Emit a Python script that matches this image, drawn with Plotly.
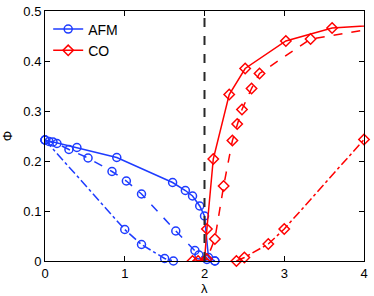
import plotly.graph_objects as go

# AFM (blue circles)
afm_solid_x = [0, 0.1, 0.4, 0.9, 1.6, 1.76, 1.85, 1.94, 2.0, 2.05, 2.13]
afm_solid_y = [0.242, 0.238, 0.227, 0.207, 0.157, 0.141, 0.130, 0.110, 0.090, 0.007, 0.0]
afm_dash_x = [0, 0.05, 0.15, 0.3, 0.54, 0.84, 1.02, 1.21, 1.64, 1.88, 1.93, 2.03, 2.13]
afm_dash_y = [0.242, 0.239, 0.235, 0.223, 0.206, 0.179, 0.160, 0.134, 0.060, 0.021, 0.012, 0.003, 0.0]
afm_dd_x = [0, 1.0, 1.21, 1.5, 1.61]
afm_dd_y = [0.242, 0.063, 0.033, 0.005, 0.0]

# CO (red diamonds)
co_solid_x = [1.85, 2.0, 2.03, 2.11, 2.31, 2.51, 3.02, 3.6, 4.4]
co_solid_y = [0.0, 0.0, 0.064, 0.204, 0.333, 0.385, 0.440, 0.466, 0.474]
co_dash_x = [1.92, 2.03, 2.13, 2.24, 2.35, 2.41, 2.47, 2.59, 2.69, 3.33, 4.4]
co_dash_y = [0.0, 0.004, 0.044, 0.150, 0.241, 0.274, 0.303, 0.345, 0.375, 0.444, 0.472]
co_dd_x = [2.40, 2.50, 2.80, 3.0, 4.0]
co_dd_y = [0.0, 0.007, 0.034, 0.064, 0.243]

x_ticks = [0, 1, 2, 3, 4]
y_ticks = [0, 0.1, 0.2, 0.3, 0.4, 0.5]

BLUE = "rgb(30,60,255)"
RED = "rgb(255,0,0)"

fig = go.Figure()

def add(x, y, color, symbol, dash, name, show, clip=True):
    fig.add_trace(go.Scatter(
        x=x, y=y, mode="lines+markers", name=name, showlegend=show,
        line=dict(color=color, width=1.5, dash=dash),
        marker=dict(symbol=symbol, size=8, color=color, line=dict(color=color, width=1.5)),
        cliponaxis=clip,
    ))

add(afm_solid_x, afm_solid_y, BLUE, "circle-open", "solid", "AFM", True, False)
add(afm_dash_x, afm_dash_y, BLUE, "circle-open", "dash", "AFM", False, False)
add(afm_dd_x, afm_dd_y, BLUE, "circle-open", "dashdot", "AFM", False, False)
add(co_solid_x, co_solid_y, RED, "diamond-open", "solid", "CO", True, True)
add(co_dash_x, co_dash_y, RED, "diamond-open", "dash", "CO", False, True)
add(co_dd_x, co_dd_y, RED, "diamond-open", "dashdot", "CO", False, False)

fig.add_shape(type="line", x0=2, x1=2, y0=0, y1=0.5, xref="x", yref="y",
              line=dict(color="rgb(40,40,40)", width=2, dash="dash"))

axis_common = dict(showline=True, mirror="ticks", linecolor="black", linewidth=1,
                   ticks="inside", ticklen=5, tickcolor="black", showgrid=False,
                   zeroline=False, automargin=False, tickfont=dict(size=13, color="black"))

fig.update_xaxes(range=[0, 4], tickvals=x_ticks, ticktext=[str(v) for v in x_ticks],
                 **axis_common)
fig.update_yaxes(range=[0, 0.5], tickvals=y_ticks, ticktext=["0", "0.1", "0.2", "0.3", "0.4", "0.5"],
                 title=dict(text="Φ", font=dict(size=13, color="black"), standoff=8),
                 **axis_common)

# x-axis label placed just under the tick labels
fig.add_annotation(text="λ", x=0.5, y=0, xref="paper", yref="paper",
                   xanchor="center", yanchor="top", yshift=-18, showarrow=False,
                   font=dict(size=13, color="black"))

fig.update_layout(
    width=374, height=296,
    margin=dict(l=45, r=10, t=11, b=35),
    paper_bgcolor="white", plot_bgcolor="white",
    font=dict(family="Liberation Sans, Arial, sans-serif", size=13, color="black"),
    legend=dict(x=0.01, y=0.99, xanchor="left", yanchor="top",
                bgcolor="rgba(0,0,0,0)", borderwidth=0,
                font=dict(size=14), itemwidth=30, tracegroupgap=0),
)

fig.write_html("out.html", config={"displayModeBar": False},
               post_script="document.body.style.margin='0px';document.body.style.overflow='hidden';")
